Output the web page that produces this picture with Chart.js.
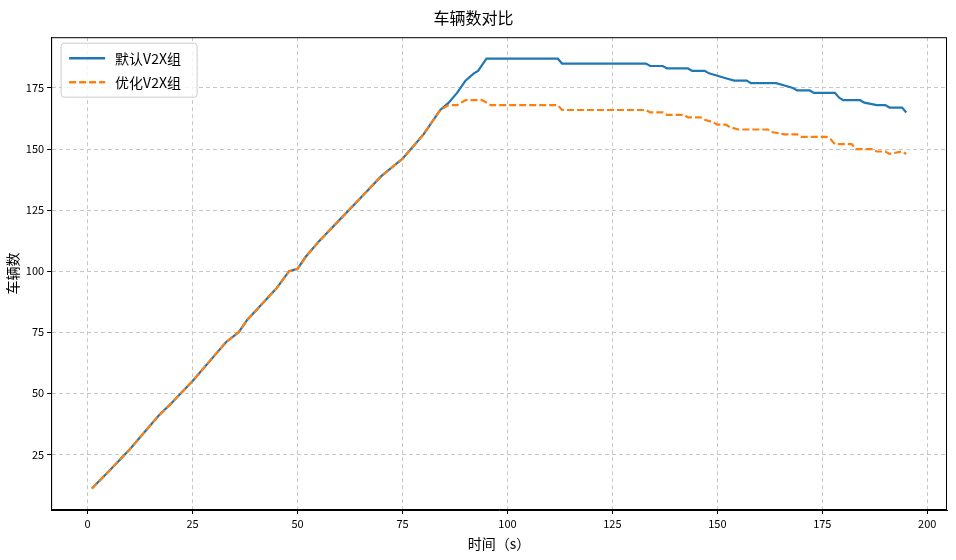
<!DOCTYPE html>
<html><head><meta charset="utf-8">
<script src="https://cdn.jsdelivr.net/npm/chart.js@4"></script>
<style>body{margin:0;background:#fff}#wrap{width:956px;height:560px}</style>
</head><body><div id="wrap"><canvas id="c"></canvas></div>
<script>
'use strict';

// --- Data ---
const seriesNames = ['默认V2X组', '优化V2X组'];
const defaultTimes = [1,5,10,15,17,20,25,30,33,36,38,45,48,50,52,55,60,65,70,75,78,80,82,84,86,88,90,92,93,95,112,113,133,134,137,138,143,144,147,148,150,152,154,157,158,164,166,168,169,172,173,178,179,180,184,185,188,190,191,194,195];
const defaultValues = [11,18,27,37,41,46,55,65,71,75,80,93,100,101,106,112,121,130,139,146,152,156,161,166,169,173,178,181,182,187,187,185,185,184,184,183,183,182,182,181,180,179,178,178,177,177,176,175,174,174,173,173,171,170,170,169,168,168,167,167,165];
const optTimes = [1,5,10,15,17,20,25,30,33,36,38,45,48,50,52,55,60,65,70,75,78,80,82,84,86,88,89,90,94,95,96,112,113,133,134,137,138,142,143,146,147,149,150,152,153,155,162,163,166,169,170,176,177,178,182,183,187,188,190,191,194,195];
const optValues = [11,18,27,37,41,46,55,65,71,75,80,93,100,101,106,112,121,130,139,146,152,156,161,166,168,168,169,170,170,169,168,168,166,166,165,165,164,164,163,163,162,161,160,160,159,158,158,157,156,156,155,155,154,152,152,150,150,149,149,148,149,148];
const xTicks = [0,25,50,75,100,125,150,175,200];
const yTicks = [25,50,75,100,125,150,175];

const toPoints = (xs, ys) => xs.map((x, i) => ({ x: x, y: ys[i] }));
const FONT = '"Noto Sans CJK SC", "DejaVu Sans", sans-serif';
Chart.defaults.font.family = FONT;
Chart.defaults.color = '#000';

// full box around the plot + legend inside, top-left
const frameAndLegend = {
  id: 'frameAndLegend',
  afterDraw(chart) {
    const ctx = chart.ctx, a = chart.chartArea;
    ctx.save();
    ctx.strokeStyle = '#000';
    ctx.lineWidth = 1;
    ctx.strokeRect(a.left + 0.5, a.top + 0.5, a.width - 1, a.height - 1);

    const x = a.left + 10, y = a.top + 6;
    ctx.fillStyle = 'rgba(255,255,255,0.8)';
    ctx.strokeStyle = '#ccc';
    ctx.beginPath();
    ctx.roundRect(x, y, 136, 54, 3);
    ctx.fill(); ctx.stroke();
    ctx.font = '14px ' + FONT;
    ctx.textBaseline = 'middle';
    chart.data.datasets.forEach((ds, i) => {
      const ly = y + 15 + i * 24;
      ctx.strokeStyle = ds.borderColor;
      ctx.lineWidth = 2.5;
      ctx.setLineDash(ds.borderDash || []);
      ctx.beginPath(); ctx.moveTo(x + 8, ly); ctx.lineTo(x + 44, ly); ctx.stroke();
      ctx.setLineDash([]);
      ctx.fillStyle = '#000';
      ctx.fillText(ds.label, x + 54, ly);
    });
    ctx.restore();
  }
};

const gridOpts = { color: '#c8c8c8', tickColor: '#000', tickLength: 4 };

new Chart(document.getElementById('c').getContext('2d'), {
  type: 'line',
  data: {
    datasets: [
      { label: seriesNames[0], data: toPoints(defaultTimes, defaultValues), borderColor: '#1f77b4', borderWidth: 2.2, pointRadius: 0, order: 2 },
      { label: seriesNames[1], data: toPoints(optTimes, optValues), borderColor: '#ff7f0e', borderWidth: 2.2, borderDash: [7, 3], pointRadius: 0, order: 1 }
    ]
  },
  plugins: [frameAndLegend],
  options: {
    responsive: true, maintainAspectRatio: false, animation: false,
    layout: { padding: { left: 0, right: 9, top: 0, bottom: 4 } },
    plugins: {
      legend: { display: false },
      tooltip: { enabled: false },
      title: { display: true, text: '车辆数对比', font: { size: 16, weight: 'normal' }, padding: { top: 8, bottom: 10 } }
    },
    scales: {
      x: {
        type: 'linear', min: -8.7, max: 204.7,
        afterBuildTicks: s => { s.ticks = xTicks.map(v => ({ value: v })); },
        ticks: { font: { size: 11 }, maxRotation: 0 },
        grid: gridOpts,
        border: { color: '#000', dash: [4, 3] },
        title: { display: true, text: '时间（s）', font: { size: 14 }, padding: { top: 2 } }
      },
      y: {
        min: 2.2, max: 195.8,
        afterBuildTicks: s => { s.ticks = yTicks.map(v => ({ value: v })); },
        ticks: { font: { size: 11 } },
        grid: gridOpts,
        border: { color: '#000', dash: [4, 3] },
        title: { display: true, text: '车辆数', font: { size: 14 }, padding: { bottom: 2 } }
      }
    }
  }
});
</script>
</body></html>
